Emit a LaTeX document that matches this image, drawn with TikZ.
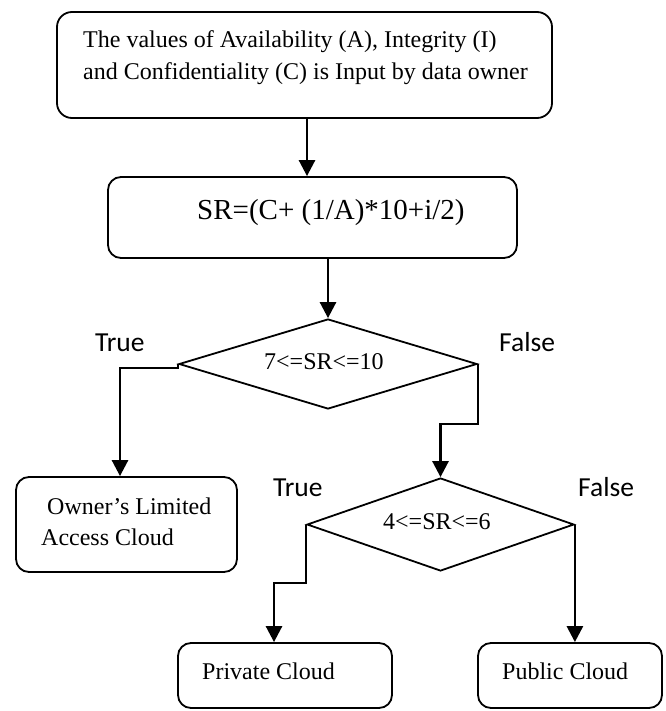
\documentclass[tikz,border=0pt]{standalone}
\usepackage{fontspec}
\setmainfont{Liberation Serif}
\newfontfamily\labelfont{Carlito}
\usetikzlibrary{arrows.meta,shapes.geometric}

\tikzset{
  box/.style={draw, line width=1.8pt, rounded corners=13pt, inner sep=0pt},
  decision/.style={draw, diamond, line width=1.8pt, inner sep=0pt},
  txt/.style={inner sep=0pt, anchor=base west, font=\fontsize{24}{28}\selectfont},
  bigtxt/.style={inner sep=0pt, anchor=base west, font=\fontsize{29}{34}\selectfont},
  branch/.style={inner sep=0pt, anchor=base west, font=\labelfont\fontsize{27.5}{32}\selectfont},
  conn/.style={line width=2.7pt, -{Triangle[length=16pt,width=16pt]}},
}

\begin{document}
\begin{tikzpicture}[x=1pt, y=-1pt]
  \useasboundingbox (0,0) rectangle (665,711);

  % boxes and decisions
  \node[box, rounded corners=15pt, minimum width=495pt, minimum height=106pt] (b1) at (304.5,65) {};
  \node[box, minimum width=409pt, minimum height=81pt] (b2) at (312.5,217.5) {};
  \node[decision, minimum width=298pt, minimum height=90pt] (d1) at (328,364) {};
  \node[box, minimum width=221pt, minimum height=95pt] (own) at (126.5,524.5) {};
  \node[decision, minimum width=267pt, minimum height=93pt] (d2) at (440.5,524.5) {};
  \node[box, minimum width=214pt, minimum height=65pt] (priv) at (285,675.5) {};
  \node[box, minimum width=184pt, minimum height=65pt] (pub) at (570,675.5) {};

  % texts
  \node[txt] (t1a) at (83,48) {The values of Availability (A), Integrity (I)};
  \node[txt] (t1b) at (83,80) {and Confidentiality (C) is Input by data owner};
  \node[bigtxt] (t2) at (197,219) {SR=(C+ (1/A)*10+i/2)};
  \node[txt] (t3) at (264,369) {7<=SR<=10};
  \node[txt] (t4a) at (47,514) {Owner’s Limited};
  \node[txt] (t4b) at (41,545) {Access Cloud};
  \node[txt] (t5) at (383,529) {4<=SR<=6};
  \node[txt] (t6) at (202,679) {Private Cloud};
  \node[txt] (t7) at (502,679) {Public Cloud};

  % branch labels
  \node[branch] (lt1) at (95,351) {True};
  \node[branch] (lf1) at (499,351) {False};
  \node[branch] (lt2) at (273,496) {True};
  \node[branch] (lf2) at (578,496) {False};

  % routing guides
  \coordinate (c1) at (307,0);
  \coordinate (c2) at (120,0);
  \coordinate (c3) at (274,0);
  \coordinate (j1) at (0,424);
  \coordinate (j2) at (0,583);

  % connectors
  \draw[conn] (b1.south -| c1) -- (b2.north -| c1);
  \draw[conn] (b2.south -| d1.north) -- (d1.north);
  \draw[conn] (d1.west) -- ++(0,4) -| (own.north -| c2);
  \draw[conn] (d1.east) -- (d1.east |- j1) -| (d2.north);
  \draw[conn] (d2.west) -- (d2.west |- j2) -| (priv.north -| c3);
  \draw[conn] (d2.east) -- (pub.north -| d2.east);
\end{tikzpicture}
\end{document}
